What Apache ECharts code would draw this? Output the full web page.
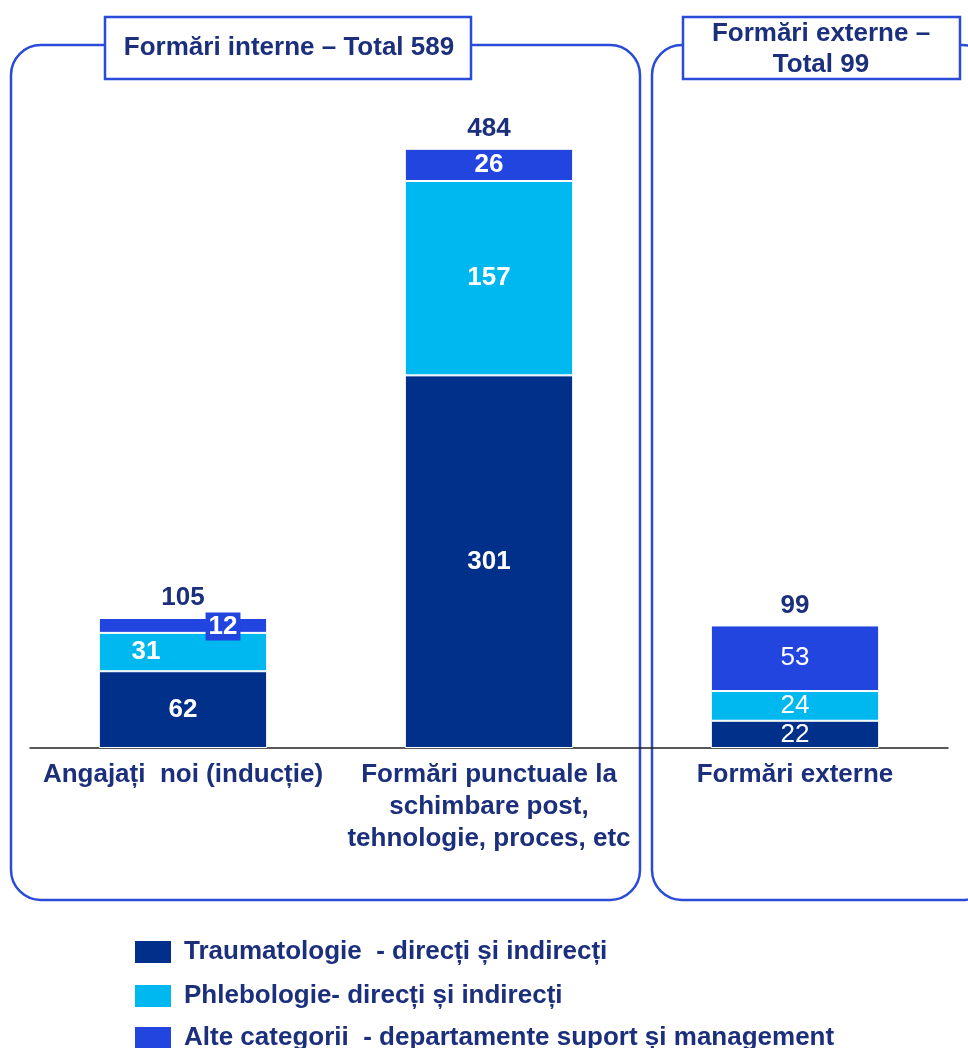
<!DOCTYPE html>
<html>
<head>
<meta charset="utf-8">
<script src="https://cdn.jsdelivr.net/npm/echarts@6/dist/echarts.min.js"></script>
<style>
  html, body { margin: 0; padding: 0; background: #fff; }
  #chart { width: 968px; height: 1048px; }
</style>
</head>
<body>
<div id="chart"></div>
<script>
// date
const categories = [
  'Angajați  noi (inducție)',
  'Formări punctuale la\nschimbare post,\ntehnologie, proces, etc',
  'Formări externe'
]
const seriesNames = [
  'Traumatologie  - direcți și indirecți',
  'Phlebologie- direcți și indirecți',
  'Alte categorii  - departamente suport și management'
]
const traumatologie = [62, 301, 22]
const phlebologie = [31, 157, 24]
const alteCategorii = [12, 26, 53]
const totals = [105, 484, 99]
const panelTitles = ['Formări interne – Total 589', 'Formări externe –\nTotal 99']

const navy = '#1b2f7c'
const frameBlue = '#2a4bd7'
const colors = ['#00308a', '#00b8f0', '#2245e0']
const font = '"Liberation Sans", Arial, sans-serif'
const fs = 26

const chart = echarts.init(document.getElementById('chart'))

const inside = () => ({
  show: true,
  position: 'inside',
  color: '#fff',
  fontSize: fs,
  fontWeight: 'bold',
  fontFamily: font
})

// etichete: ultima categorie are text normal
const dataWithLabels = (values, special) => values.map((v, i) => {
  const item = { value: v }
  if (i === 2) item.label = { fontWeight: 'normal' }
  if (special && special[i]) item.label = Object.assign(item.label || {}, special[i])
  return item
})

// cate o legenda pe rand, ca sa nu se imparta pe coloane
const legendTops = [939, 983, 1025]
const legends = seriesNames.map((name, i) => ({
  data: [name],
  left: 133,
  top: legendTops[i],
  padding: 0,
  itemWidth: 38,
  itemHeight: 24,
  itemGap: 0,
  icon: 'rect',
  textStyle: { color: navy, fontSize: fs, fontWeight: 'bold', fontFamily: font, padding: [0, 0, 0, 7] }
}))

const option = {
  animation: false,
  textStyle: { fontFamily: font },
  grid: { left: 30, right: 20, top: 129, bottom: 300 },
  legend: legends,
  xAxis: {
    type: 'category',
    data: categories,
    axisTick: { show: false },
    axisLine: { lineStyle: { color: '#222', width: 1.5 } },
    axisLabel: {
      color: navy,
      fontSize: fs,
      fontWeight: 'bold',
      fontFamily: font,
      lineHeight: 32,
      margin: 11,
      interval: 0
    }
  },
  yAxis: {
    type: 'value',
    min: 0,
    max: 500,
    show: false,
    splitLine: { show: false }
  },
  graphic: [
    {
      type: 'rect', z: -1,
      shape: { x: 11, y: 45, width: 629, height: 855, r: 30 },
      style: { fill: 'none', stroke: frameBlue, lineWidth: 2.5 }
    },
    {
      type: 'rect', z: -1,
      shape: { x: 652, y: 45, width: 340, height: 855, r: 30 },
      style: { fill: 'none', stroke: frameBlue, lineWidth: 2.5 }
    },
    {
      type: 'rect', z: 5,
      shape: { x: 105, y: 17, width: 366, height: 62 },
      style: { fill: '#fff', stroke: frameBlue, lineWidth: 2.5 }
    },
    {
      type: 'text', z: 6, x: 289, y: 48,
      style: { text: panelTitles[0], fill: navy, font: 'bold ' + fs + 'px ' + font, align: 'center', verticalAlign: 'middle' }
    },
    {
      type: 'rect', z: 5,
      shape: { x: 683, y: 17, width: 277, height: 62 },
      style: { fill: '#fff', stroke: frameBlue, lineWidth: 2.5 }
    },
    {
      type: 'text', z: 6, x: 821, y: 49,
      style: { text: panelTitles[1], fill: navy, font: 'bold ' + fs + 'px ' + font, align: 'center', verticalAlign: 'middle', lineHeight: 31 }
    }
  ],
  series: [
    {
      name: seriesNames[0],
      type: 'bar',
      stack: 'total',
      barWidth: '55%',
      data: dataWithLabels(traumatologie),
      itemStyle: { color: colors[0], borderColor: '#fff', borderWidth: 1 },
      label: inside()
    },
    {
      name: seriesNames[1],
      type: 'bar',
      stack: 'total',
      data: dataWithLabels(phlebologie, [{ offset: [-37, 0] }]),
      itemStyle: { color: colors[1], borderColor: '#fff', borderWidth: 1 },
      label: inside()
    },
    {
      name: seriesNames[2],
      type: 'bar',
      stack: 'total',
      data: dataWithLabels(alteCategorii, [{
        offset: [40, 1],
        backgroundColor: colors[2],
        padding: [2, 3, 0, 3]
      }]),
      itemStyle: { color: colors[2], borderColor: '#fff', borderWidth: 1 },
      label: inside()
    },
    {
      name: 'Total',
      type: 'bar',
      stack: 'total',
      data: totals.map(() => 0),
      itemStyle: { color: 'transparent' },
      label: {
        show: true,
        position: 'top',
        distance: 7,
        color: navy,
        fontSize: fs,
        fontWeight: 'bold',
        fontFamily: font,
        formatter: (p) => totals[p.dataIndex]
      }
    }
  ]
}

chart.setOption(option)
window.addEventListener('resize', () => chart.resize())
</script>
</body>
</html>
